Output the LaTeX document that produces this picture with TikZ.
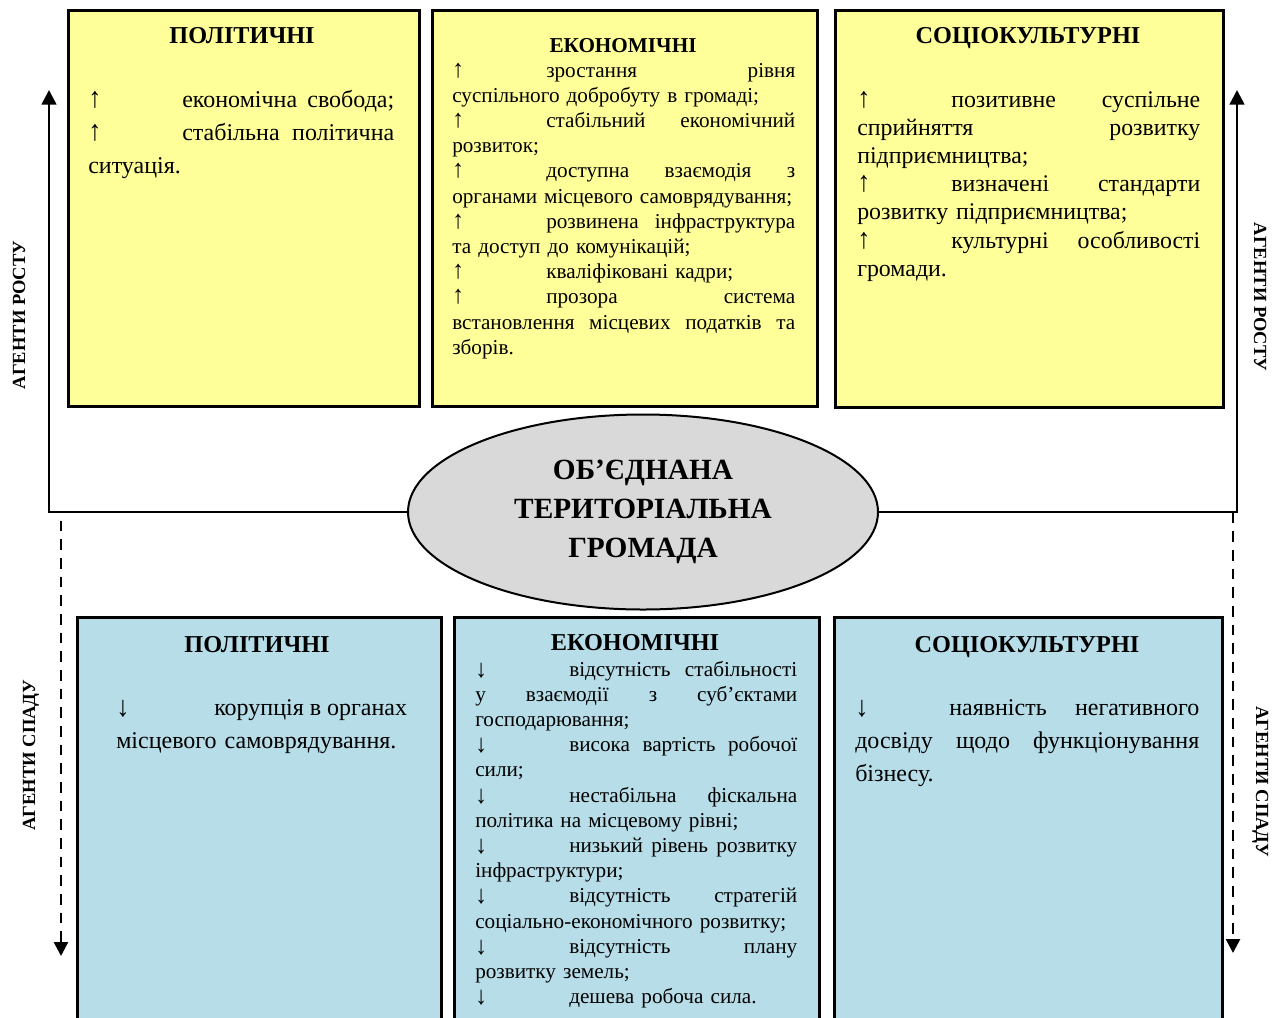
\documentclass[tikz,border=0pt]{standalone}
\usepackage{graphicx}
\usepackage{fontspec}
\setmainfont{Liberation Serif}
\usetikzlibrary{shapes.geometric,arrows.meta}

\definecolor{yellowfill}{HTML}{FFFF99}
\definecolor{bluefill}{HTML}{B7DDE8}
\definecolor{ellgray}{HTML}{D9D9D9}

% column width of the current text block
\newlength{\colw}
% a justified line, a left-aligned last line, and tabbed arrow marks
\newcommand{\boxjust}[1]{\leavevmode\hbox to\colw{\spaceskip=0.25em plus 4em\relax #1}}
\newcommand{\boxlast}[1]{\leavevmode\hbox to\colw{#1\hfil}}
\newcommand{\upmk}[1][70.5pt]{\makebox[#1][l]{\scalebox{1.1}[1.2]{↑}}}
\newcommand{\dnmk}[1][70.5pt]{\makebox[#1][l]{\raisebox{-0.05em}{\scalebox{1.1}[1.2]{↓}}}}

\begin{document}
\begin{tikzpicture}[x=0.75pt,y=-0.75pt,
  ybox/.style={draw, line width=2.2pt, fill=yellowfill, inner sep=0, anchor=north west},
  bbox/.style={draw, line width=2.2pt, fill=bluefill, inner sep=0, anchor=north west},
  title/.style={font=\bfseries\fontsize{18.2pt}{21pt}\selectfont, anchor=base, inner sep=0},
  smalltitle/.style={font=\bfseries\fontsize{15.9pt}{19pt}\selectfont, anchor=base, inner sep=0},
  body/.style={anchor=base west, inner sep=0, text width=#1*0.75pt,
    execute at begin node={\pgfmathsetlength{\colw}{#1*0.75pt}}},
  tight/.style={font=\fontsize{15.9pt}{18.9pt}\selectfont},
  mid/.style={font=\fontsize{17.9pt}{21.15pt}\selectfont},
  wide/.style={font=\fontsize{18pt}{24.75pt}\selectfont},
  agent/.style={font=\bfseries\fontsize{13.9pt}{16pt}\selectfont, anchor=base, inner sep=0},
  growline/.style={line width=1.9pt, -{Triangle[width=11pt,length=11pt]}},
  fallline/.style={line width=1.9pt, dash pattern=on 8pt off 6pt, -{Triangle[width=10.5pt,length=10.5pt]}}
]
\useasboundingbox (0,0) rectangle (1281,1017);
\clip (0,0) rectangle (1281,1017);
\fill[white] (0,0) rectangle (1281,1017);

% upper row: growth factors
\node[ybox, minimum width=351*0.75pt, minimum height=396*0.75pt] (tp) at (67,9) {};
\node[ybox, minimum width=385*0.75pt, minimum height=396*0.75pt] (te) at (431,9) {};
\node[ybox, minimum width=388*0.75pt, minimum height=397*0.75pt] (ts) at (834,9) {};

% lower row: decline factors
\node[bbox, minimum width=364*0.75pt, minimum height=420*0.75pt] (bp) at (76,616) {};
\node[bbox, minimum width=365*0.75pt, minimum height=420*0.75pt] (be) at (453,616) {};
\node[bbox, minimum width=388*0.75pt, minimum height=420*0.75pt] (bs) at (833,616) {};

% titles
\node[title] (tpt) at (242,43) {ПОЛІТИЧНІ};
\node[smalltitle] (tet) at (623,52) {ЕКОНОМІЧНІ};
\node[title] (tst) at (1028,43) {СОЦІОКУЛЬТУРНІ};
\node[title] (bpt) at (257,652) {ПОЛІТИЧНІ};
\node[title] (bet) at (635,650) {ЕКОНОМІЧНІ};
\node[title] (bst) at (1027,652) {СОЦІОКУЛЬТУРНІ};

% upper texts
\node[body=306, wide] (tpb) at (88,107) {%
\boxjust{\upmk економічна свобода;}\\
\boxjust{\upmk стабільна політична}\\
\boxlast{ситуація.}};

\node[body=343, tight] (teb) at (452,77) {%
\boxjust{\upmk зростання рівня}\\
\boxlast{суспільного добробуту в громаді;}\\
\boxjust{\upmk стабільний економічний}\\
\boxlast{розвиток;}\\
\boxjust{\upmk доступна взаємодія з}\\
\boxlast{органами місцевого самоврядування;}\\
\boxjust{\upmk розвинена інфраструктура}\\
\boxlast{та доступ до комунікацій;}\\
\boxlast{\upmk кваліфіковані кадри;}\\
\boxjust{\upmk прозора система}\\
\boxjust{встановлення місцевих податків та}\\
\boxlast{зборів.}};

\node[body=343, mid] (tsb) at (857,107) {%
\boxjust{\upmk позитивне суспільне}\\
\boxjust{сприйняття розвитку}\\
\boxlast{підприємництва;}\\
\boxjust{\upmk визначені стандарти}\\
\boxlast{розвитку підприємництва;}\\
\boxjust{\upmk культурні особливості}\\
\boxlast{громади.}};

% lower texts
\node[body=286, wide] (bpb) at (116,715) {%
\boxjust{\dnmk[69pt] корупція в органах}\\
\boxlast{місцевого самоврядування.}};

\node[body=322, tight] (beb) at (475,676) {%
\boxjust{\dnmk відсутність стабільності}\\
\boxjust{у взаємодії з суб’єктами}\\
\boxlast{господарювання;}\\
\boxjust{\dnmk висока вартість робочої}\\
\boxlast{сили;}\\
\boxjust{\dnmk нестабільна фіскальна}\\
\boxlast{політика на місцевому рівні;}\\
\boxjust{\dnmk низький рівень розвитку}\\
\boxlast{інфраструктури;}\\
\boxjust{\dnmk відсутність стратегій}\\
\boxlast{соціально-економічного розвитку;}\\
\boxjust{\dnmk відсутність плану}\\
\boxlast{розвитку земель;}\\
\boxlast{\dnmk дешева робоча сила.}};

\node[body=344, wide] (bsb) at (855,715) {%
\boxjust{\dnmk наявність негативного}\\
\boxjust{досвіду щодо функціонування}\\
\boxlast{бізнесу.}};

% central community
\node[ellipse, draw, line width=1.5pt, fill=ellgray, inner sep=0,
      minimum width=470*0.75pt, minimum height=195*0.75pt, align=center,
      font=\bfseries\fontsize{22pt}{29.25pt}\selectfont] (otg) at (643,512)
      {ОБ’ЄДНАНА\\ТЕРИТОРІАЛЬНА\\ГРОМАДА};

% growth and decline arrows
\coordinate (lup) at (49,90);
\coordinate (rup) at (1237,90);
\coordinate (ldn) at (61,956);
\coordinate (rdn) at (1233,953);
\draw[fallline] (otg.west) -| (ldn);
\draw[fallline] (otg.east) -| (rdn);
\draw[growline] (otg.west) -| (lup);
\draw[growline] (otg.east) -| (rup);

% side labels
\node[agent, rotate=90] (gl) at (25,315) {АГЕНТИ РОСТУ};
\node[agent, rotate=-90] (gr) at (1254,297) {АГЕНТИ РОСТУ};
\node[agent, rotate=90] (dl) at (35,755) {АГЕНТИ СПАДУ};
\node[agent, rotate=-90] (dr) at (1256,782) {АГЕНТИ СПАДУ};
\end{tikzpicture}
\end{document}
